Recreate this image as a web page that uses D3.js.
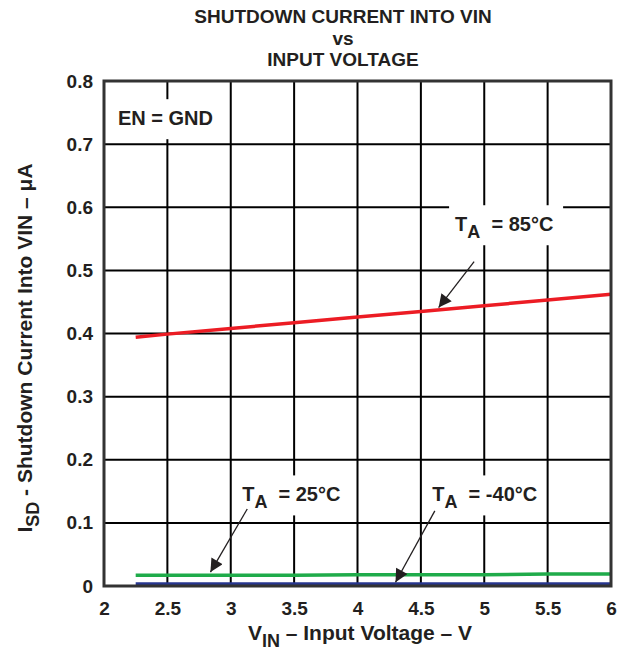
<!DOCTYPE html>
<html>
<head>
<meta charset="utf-8">
<script src="https://cdn.jsdelivr.net/npm/d3@7"></script>
<style>
  body { margin: 0; background: #fff; }
  text { font-family: "Liberation Sans", Arial, sans-serif; font-weight: bold; fill: #231f20; }
</style>
</head>
<body>
<svg id="chart" width="629" height="655"></svg>
<script>
// data
const vin = [2.25, 2.5, 3, 3.5, 4, 4.5, 5, 5.5, 6];
const i85 = [0.394, 0.399, 0.408, 0.417, 0.426, 0.435, 0.444, 0.453, 0.462];
const i25 = [0.017, 0.017, 0.017, 0.017, 0.018, 0.018, 0.018, 0.019, 0.019];
const iNeg40 = [0.003, 0.003, 0.003, 0.003, 0.003, 0.003, 0.003, 0.003, 0.003];
const xTicks = [2, 2.5, 3, 3.5, 4, 4.5, 5, 5.5, 6];
const yTicks = [0, 0.1, 0.2, 0.3, 0.4, 0.5, 0.6, 0.7, 0.8];

const series = [
  { name: "85", values: i85, color: "#ec1c24" },
  { name: "25", values: i25, color: "#1fab4a" },
  { name: "-40", values: iNeg40, color: "#27368f" },
];

const width = 629, height = 655;
const margin = { top: 81, right: 18, bottom: 69, left: 104 };

const svg = d3.select("#chart");

const x = d3.scaleLinear().domain([2, 6]).range([margin.left, width - margin.right]);
const y = d3.scaleLinear().domain([0, 0.8]).range([height - margin.bottom, margin.top]);

// title, one text per line
[["SHUTDOWN CURRENT INTO VIN", 23], ["vs", 44.5], ["INPUT VOLTAGE", 66]].forEach(([t, ty]) => {
  svg.append("text").attr("x", 343).attr("y", ty)
    .attr("text-anchor", "middle").style("font-size", "19px").text(t);
});

// grid
const grid = svg.append("g");
grid.selectAll(".vg").data(xTicks.slice(1, -1)).enter().append("line")
  .attr("x1", d => x(d)).attr("x2", d => x(d))
  .attr("y1", y(0.8)).attr("y2", y(0))
  .attr("stroke", "#000").attr("stroke-width", 2);
grid.selectAll(".hg").data(yTicks.slice(1, -1)).enter().append("line")
  .attr("x1", x(2)).attr("x2", x(6))
  .attr("y1", d => y(d)).attr("y2", d => y(d))
  .attr("stroke", "#000").attr("stroke-width", 2);

// axes (labels only)
const xAxis = d3.axisBottom(x).tickValues(xTicks).tickSize(0).tickPadding(16).tickFormat(d3.format(""));
const yAxis = d3.axisLeft(y).tickValues(yTicks).tickSize(0).tickPadding(11).tickFormat(d => d === 0 ? "0" : d3.format(".1f")(d));

svg.append("g").attr("transform", `translate(0,${y(0)})`).call(xAxis)
  .call(g => g.select(".domain").remove())
  .selectAll("text").style("font-size", "19px").attr("fill", "#231f20");
svg.append("g").attr("transform", `translate(${x(2)},0)`).call(yAxis)
  .call(g => g.select(".domain").remove())
  .selectAll("text").style("font-size", "19px").attr("fill", "#231f20");

// label backgrounds + labels
function label(px, py, parts, bgw) {
  const g = svg.append("g");
  g.append("rect").attr("x", px - 6).attr("y", py - 26).attr("width", bgw).attr("height", 40).attr("fill", "#fff");
  const t = g.append("text").attr("x", px).attr("y", py).style("font-size", "20px");
  parts.forEach(p => {
    const s = t.append("tspan").text(p.t);
    if (p.sub) s.attr("dy", 7).style("font-size", "18px");
    if (p.back) s.attr("dy", -7);
  });
}

label(x(2.11), y(0.73), [{ t: "EN = GND" }], 112);
label(x(4.77), y(0.562), [{ t: "T" }, { t: "A", sub: true }, { t: "\u00a0 = 85\u00b0C", back: true }], 114);
label(x(3.09), y(0.134), [{ t: "T" }, { t: "A", sub: true }, { t: "\u00a0 = 25\u00b0C", back: true }], 114);
label(x(4.59), y(0.134), [{ t: "T" }, { t: "A", sub: true }, { t: "\u00a0 = -40\u00b0C", back: true }], 116);

// lines
const line = d3.line().x((d, i) => x(vin[i])).y(d => y(d));
svg.append("g").selectAll("path").data(series).enter().append("path")
  .attr("d", d => line(d.values))
  .attr("fill", "none")
  .attr("stroke", d => d.color)
  .attr("stroke-width", 3.5);

// arrows
svg.append("defs").append("marker")
  .attr("id", "arrow").attr("viewBox", "0 0 10 10")
  .attr("refX", 10).attr("refY", 5)
  .attr("markerWidth", 14).attr("markerHeight", 13)
  .attr("markerUnits", "userSpaceOnUse")
  .attr("orient", "auto")
  .append("path").attr("d", "M0,0 L10,5 L0,10 Z").attr("fill", "#231f20");

const arrows = [
  { x1: 4.92, y1: 0.514, x2: 4.64, y2: 0.441 },
  { x1: 3.13, y1: 0.122, x2: 2.84, y2: 0.022 },
  { x1: 4.61, y1: 0.119, x2: 4.30, y2: 0.006 },
];
svg.append("g").selectAll("line").data(arrows).enter().append("line")
  .attr("x1", d => x(d.x1)).attr("y1", d => y(d.y1))
  .attr("x2", d => x(d.x2)).attr("y2", d => y(d.y2))
  .attr("stroke", "#231f20").attr("stroke-width", 1.3)
  .attr("marker-end", "url(#arrow)");

// frame
svg.append("rect")
  .attr("x", x(2)).attr("y", y(0.8))
  .attr("width", x(6) - x(2)).attr("height", y(0) - y(0.8))
  .attr("fill", "none").attr("stroke", "#333").attr("stroke-width", 3);

// axis titles
const xt = svg.append("text").attr("x", 360).attr("y", 640).attr("text-anchor", "middle").style("font-size", "21px");
xt.append("tspan").text("V");
xt.append("tspan").attr("dy", 7).style("font-size", "18px").text("IN");
xt.append("tspan").attr("dy", -7).text(" \u2013 Input Voltage \u2013 V");

const yt = svg.append("text").attr("transform", "translate(32,348) rotate(-90)").attr("text-anchor", "middle").style("font-size", "21px");
yt.append("tspan").text("I");
yt.append("tspan").attr("dy", 7).style("font-size", "18px").text("SD");
yt.append("tspan").attr("dy", -7).text(" - Shutdown Current Into VIN \u2013 \u03bcA");
</script>
</body>
</html>
